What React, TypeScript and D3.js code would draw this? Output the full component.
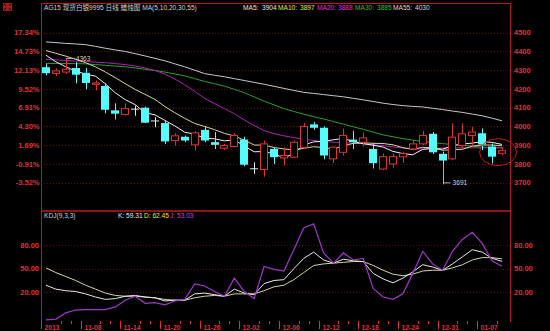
import React from "react";
import * as d3 from "d3";

const dates = [
  "11-04","11-05","11-06","11-07","11-08","11-11","11-12","11-13","11-14","11-15",
  "11-18","11-19","11-20","11-21","11-22","11-25","11-26","11-27","11-28","11-29",
  "12-02","12-03","12-04","12-05","12-06","12-09","12-10","12-11","12-12","12-13",
  "12-16","12-17","12-18","12-19","12-20","12-23","12-24","12-26","12-27","12-30",
  "12-31","01-02","01-03","01-06","01-07","01-08","01-09"
];
const opens = [4316,4283,4290,4312,4286,4225,4216,4086,4064,4095,4100,4032,4018,3925,3945,3902,3982,3916,3884,3893,3930,3777,3770,3880,3832,3836,3889,4011,3993,3827,3862,3930,3916,3880,3773,3800,3838,3880,3907,3961,3854,3827,3898,3952,3964,3893,3857];
const highs = [4332,4310,4363,4343,4311,4246,4230,4123,4123,4111,4105,4050,4032,3964,3952,3975,4000,3970,3907,3964,3945,3809,3925,3889,3889,3925,4018,4023,4000,3893,3989,3977,3966,3911,3856,3856,3866,3927,3976,3970,3866,4016,4016,3998,3989,3909,3890];
const lows = [4273,4270,4280,4230,4198,4193,4070,4037,4059,4057,4018,3996,3907,3898,3916,3871,3916,3880,3875,3889,3788,3747,3732,3800,3791,3832,3880,3982,3825,3804,3845,3880,3893,3776,3767,3780,3806,3873,3900,3853,3691,3820,3882,3900,3873,3802,3846];
const closes = [4284,4296,4305,4276,4232,4232,4089,4068,4095,4095,4020,4032,3920,3950,3925,3966,3925,3902,3898,3952,3796,3777,3907,3836,3845,3916,4000,3993,3845,3889,3952,3916,3939,3804,3839,3839,3855,3907,3952,3862,3818,3943,3961,3970,3904,3839,3871];

const ma5 = [4380,4345,4318,4295,4279,4268,4227,4179,4143,4116,4073,4062,4032,4003,3969,3959,3937,3934,3923,3929,3895,3865,3866,3854,3832,3856,3901,3918,3920,3929,3936,3919,3908,3900,3890,3867,3855,3849,3878,3883,3879,3896,3907,3911,3919,3915,3904];
const ma10 = [4405,4390,4375,4358,4340,4318,4290,4260,4228,4197,4171,4144,4106,4073,4043,4016,4000,3983,3963,3949,3927,3901,3900,3888,3880,3875,3883,3892,3887,3880,3896,3910,3913,3910,3909,3902,3887,3878,3889,3886,3873,3876,3878,3895,3901,3901,3897];
const ma20 = [4358,4355,4352,4349,4346,4343,4340,4335,4330,4322,4312,4298,4280,4253,4222,4187,4150,4122,4095,4068,4035,4005,3978,3962,3950,3940,3932,3925,3920,3916,3913,3910,3908,3902,3897,3891,3885,3881,3880,3882,3885,3886,3886,3886,3886,3887,3888];
const ma30 = [4336,4336,4336,4335,4334,4330,4326,4322,4318,4312,4305,4298,4290,4280,4270,4255,4240,4228,4215,4198,4180,4158,4135,4115,4095,4080,4065,4052,4040,4026,4012,3998,3985,3970,3955,3945,3935,3927,3920,3914,3908,3904,3900,3895,3890,3887,3885];
const ma55 = [4451,4447,4443,4440,4436,4427,4417,4408,4400,4388,4376,4363,4350,4334,4318,4300,4282,4273,4265,4255,4245,4235,4225,4214,4203,4192,4182,4176,4170,4164,4158,4150,4142,4133,4124,4117,4111,4107,4104,4097,4090,4082,4075,4066,4057,4044,4030];

const kVals = [29,24,22,21,18,14,11,12,15,16,14,13,9,10,10,18,19,17,15,24,19,17,31,35,36,50,63,71,61,57,62,60,59,44,37,32,38,46,55,52,48,56,65,74,71,63,59.31];
const dVals = [51,45,40,35,29,24,19,16,15,15,14,13,11,10,10,13,15,16,15,18,18,18,22,27,29,36,45,54,56,57,58,59,59,54,48,43,41,43,47,48,48,51,55,61,64,64,62.45];
const jVals = [-15,-14,-6,-2.5,-2,-2,-2,1.5,10,15,6,7,4,9,11,30.6,28,21,15,38,21,12,52.7,49,47,74,101.7,107,70,57,70,61,63,25,14,11,18,44,72,56,48,72,87,96,82,60,53.03];

const priceTicks = [4500,4400,4300,4200,4100,4000,3900,3800,3700];
const pctLabels = ["17.34%","14.73%","12.13%","9.52%","6.91%","4.30%","1.69%","-0.91%","-3.52%"];
const kdjTicks = [80,50,20];
const xTickLabels = ["2013","11-08","11-14","11-20","11-26","12-02","12-06","12-12","12-18","12-24","12-31","01-07"];

const maHeader = [
  { label: "MA5:", value: "3904", color: "#e8e8e8" },
  { label: "MA10:", value: "3897", color: "#e6e64a" },
  { label: "MA20:", value: "3888", color: "#e030e0" },
  { label: "MA30:", value: "3885", color: "#30c030" },
  { label: "MA55:", value: "4030", color: "#d8d8d8" },
];
const kdjHeader = [
  { text: "K: 59.31", color: "#e8e8e8" },
  { text: "D: 62.45", color: "#e6e64a" },
  { text: "J: 53.03", color: "#d040e0" },
];

const RED = "#e03232";
const CYAN = "#54fcfc";
const FONT = "'Liberation Sans', Arial, 'Noto Sans CJK SC', sans-serif";

export default function App() {
  const left = 41, right = 510, plotRight = 507;
  const x = d3.scaleBand<number>().domain(d3.range(dates.length)).range([left, plotRight]).padding(0);
  const step = x.step();
  const cx = (i: number) => (x(i) as number) + step / 2;
  const y = d3.scaleLinear().domain([3700, 4500]).range([182.7, 32.7]);
  const ky = d3.scaleLinear().domain([20, 80]).range([292.3, 245]);
  const bodyW = 8;

  const priceLine = (arr: number[]) =>
    d3.line<number>().x((_, i) => cx(i)).y((d) => y(d))(arr) || "";
  const kdjLine = (arr: number[]) =>
    d3.line<number>().x((_, i) => cx(i)).y((d) => ky(d))(arr) || "";

  const maSeries = [
    { data: ma55, color: "#c8c8c8" },
    { data: ma30, color: "#2aa02a" },
    { data: ma20, color: "#b020b8" },
    { data: ma10, color: "#d8d890" },
    { data: ma5, color: "#f0f0f0" },
  ];

  // extreme markers
  const hiIdx = d3.maxIndex(highs);
  const loIdx = d3.minIndex(lows);
  const last = dates.length - 1;

  const maXs = [243, 262, 278, 300, 317, 338, 355, 377, 393, 415];

  return (
    <div style={{ position: "fixed", left: 0, top: 0, width: 550, height: 331, background: "#000" }}>
      <svg width={550} height={331} style={{ display: "block", fontFamily: FONT }}>
        <rect x={0} y={0} width={550} height={331} fill="#000" />
        {/* icon */}
        <rect x={3} y={3} width={9} height={8} fill="#a81818" />
        <path d="M4,4 L6,6 M11,4 L9,6 M4,10 L6,8 M11,10 L9,8" stroke="#000" strokeWidth={1} />

        {/* grid lines */}
        {priceTicks.map((t) => (
          <line key={"g" + t} x1={left} x2={right} y1={Math.round(y(t)) + 0.5} y2={Math.round(y(t)) + 0.5}
            stroke="#5e1212" strokeDasharray="1,2" />
        ))}
        {kdjTicks.map((t) => (
          <line key={"kg" + t} x1={left} x2={right} y1={Math.round(ky(t)) + 0.5} y2={Math.round(ky(t)) + 0.5}
            stroke="#5e1212" strokeDasharray="1,2" />
        ))}

        {/* borders */}
        <line x1={left} x2={right} y1={3.5} y2={3.5} stroke="#b81818" />
        <line x1={left + 0.5} x2={left + 0.5} y1={3} y2={322} stroke="#b81818" />
        <line x1={right + 0.5} x2={right + 0.5} y1={3} y2={322} stroke="#b81818" />
        <line x1={left} x2={right} y1={211} y2={211} stroke="#c01818" strokeWidth={1.6} />

        {/* header */}
        <text x={44} y={9.5} fontSize={6.6} fill="#d0d0d0">AG15 现货白银9995 日线 蜡烛图 MA(5,10,20,30,55)</text>
        {maHeader.map((m, k) => (
          <g key={m.label}>
            <text x={maXs[k * 2]} y={9.5} fontSize={6.6} fill={m.color}>{m.label}</text>
            <text x={maXs[k * 2 + 1]} y={9.5} fontSize={6.6} fill={m.color}>{m.value}</text>
          </g>
        ))}

        {/* price axis labels */}
        {priceTicks.map((t, k) => (
          <g key={"pl" + t}>
            <text x={39.5} y={y(t) + 2.7} fontSize={7.5} fontWeight="bold" fill={RED} textAnchor="end">{pctLabels[k]}</text>
            <text x={514} y={y(t) + 2.7} fontSize={7.5} fontWeight="bold" fill={RED}>{t}</text>
          </g>
        ))}

        {/* MA lines */}
        {maSeries.map((s, k) => (
          <path key={"ma" + k} d={priceLine(s.data)} fill="none" stroke={s.color} strokeWidth={1} />
        ))}

        {/* candles */}
        {dates.map((d, i) => {
          const o = opens[i], c = closes[i], h = highs[i], l = lows[i];
          const xc = Math.round(cx(i)) + 0.5;
          const top = y(Math.max(o, c)), bot = y(Math.min(o, c));
          const bx = Math.round(cx(i) - bodyW / 2);
          if (c > o) {
            return (
              <g key={d} stroke={RED} strokeWidth={1}>
                <line x1={xc} x2={xc} y1={y(h)} y2={top} />
                <line x1={xc} x2={xc} y1={bot} y2={y(l)} />
                <rect x={bx + 0.5} y={top} width={bodyW - 1} height={Math.max(bot - top, 1)} fill="#000" />
              </g>
            );
          }
          const col = c < o ? CYAN : "#cfeeee";
          return (
            <g key={d}>
              <line x1={xc} x2={xc} y1={y(h)} y2={y(l)} stroke={col} strokeWidth={1} />
              <rect x={bx} y={top} width={bodyW} height={Math.max(bot - top, 1)} fill={col} />
            </g>
          );
        })}

        {/* high / low markers */}
        <line x1={cx(hiIdx)} x2={cx(hiIdx) + 9} y1={y(highs[hiIdx])} y2={y(highs[hiIdx])} stroke="#b0b0b0" />
        <text x={cx(hiIdx) + 10} y={y(highs[hiIdx]) + 2.3} fontSize={6.6} fill="#d0d0d0">{highs[hiIdx]}</text>
        <path d={`M${Math.round(cx(loIdx)) + 0.5},${y(closes[loIdx]) + 4} V${y(lows[loIdx]) - 1.5} H${cx(loIdx) + 8}`}
          fill="none" stroke="#b0b0b0" />
        <text x={cx(loIdx) + 10} y={y(lows[loIdx]) + 1} fontSize={6.6} fill="#d0d0d0">{lows[loIdx]}</text>

        {/* highlight ellipse */}
        <ellipse cx={cx(last) - 4} cy={y(closes[last]) + 1.5} rx={18.5} ry={13.5} fill="none" stroke="#c41818" strokeWidth={1} />

        {/* KDJ panel */}
        <text x={44} y={218} fontSize={6.6} fill="#d0d0d0">KDJ(9,3,3)</text>
        {kdjHeader.map((h, k) => (
          <text key={h.text} x={118 + k * 26} y={218} fontSize={6.6} fill={h.color}>{h.text}</text>
        ))}
        {kdjTicks.map((t) => (
          <g key={"kl" + t}>
            <text x={39} y={ky(t) + 2.7} fontSize={7.5} fontWeight="bold" fill={RED} textAnchor="end">{t.toFixed(2)}</text>
            <text x={514} y={ky(t) + 2.7} fontSize={7.5} fontWeight="bold" fill={RED}>{t.toFixed(2)}</text>
          </g>
        ))}
        <path d={kdjLine(dVals)} fill="none" stroke="#d4d49a" strokeWidth={1} />
        <path d={kdjLine(kVals)} fill="none" stroke="#e8e8e8" strokeWidth={1} />
        <path d={kdjLine(jVals)} fill="none" stroke="#a038c8" strokeWidth={1.2} />

        {/* x axis */}
        {dates.map((d, i) => {
          const xx = Math.round(x(i) as number) + 0.5;
          const m = i % 4;
          if (m === 0) {
            return (
              <g key={"t" + i}>
                <line x1={xx} x2={xx} y1={321} y2={329} stroke={RED} />
                <text x={xx + 3} y={329.5} fontSize={6.8} fontWeight="bold" fill={RED}>{xTickLabels[i / 4]}</text>
              </g>
            );
          }
          if (m >= 2) return <line key={"t" + i} x1={xx} x2={xx} y1={321} y2={324} stroke={RED} />;
          return null;
        })}
      </svg>
    </div>
  );
}
